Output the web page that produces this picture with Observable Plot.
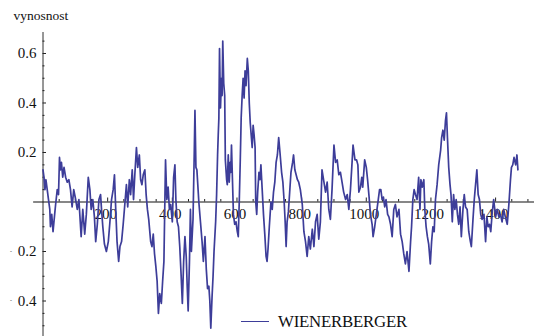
<!DOCTYPE html>
<html>
<head>
<meta charset="utf-8">
<script src="https://cdn.jsdelivr.net/npm/d3@7"></script>
<script src="https://cdn.jsdelivr.net/npm/@observablehq/plot@0.6"></script>
<style>
  body { margin: 0; background: #fff; }
  #chart { position: relative; width: 534px; height: 336px; overflow: hidden; }
  #chart svg { display: block; font-family: "Liberation Serif", serif !important; }
  #chart svg text { font-family: "Liberation Serif", serif !important; }
  .swatch { position: absolute; left: 241px; top: 320.5px; width: 28px; height: 1.6px; background: #3d3d99; }
  .legend-text { position: absolute; left: 278px; top: 313px; font-family: "Liberation Serif", serif; font-size: 16.8px; line-height: 17px; letter-spacing: -0.2px; color: #111; white-space: nowrap; }
</style>
</head>
<body>
<div id="chart"></div>
<script>
// Trading day index and rolling return of the series
const days = [
  0, 3, 6, 9, 13, 17, 21, 23, 27, 31, 36, 39, 44, 48, 51, 54, 57, 61, 65, 70,
  75, 80, 85, 90, 95, 101, 106, 111, 118, 123, 129, 134, 140, 145, 149, 154, 159, 163, 168, 173,
  178, 181, 185, 190, 196, 202, 207, 212, 217, 221, 225, 229, 234, 238, 243, 248, 253, 258, 262, 267,
  271, 276, 280, 284, 289, 293, 298, 302, 306, 310, 315, 319, 323, 327, 333, 337, 341, 345, 349, 353,
  357, 361, 366, 370, 374, 377, 379, 383, 387, 391, 395, 400, 404, 408, 411, 415, 419, 423, 427, 431,
  435, 439, 443, 446, 449, 453, 456, 459, 464, 468, 470, 473, 476, 482, 487, 492, 496, 501, 505, 509,
  513, 516, 519, 523, 526, 529, 534, 537, 540, 542, 544, 546, 549, 552, 554, 556, 559, 562, 564, 568,
  570, 573, 576, 579, 581, 583, 586, 589, 593, 597, 601, 604, 607, 610, 613, 616, 619, 622, 625, 628,
  632, 635, 638, 641, 644, 647, 650, 653, 656, 658, 661, 664, 668, 671, 674, 678, 682, 686, 690, 693,
  696, 700, 705, 709, 713, 717, 721, 725, 729, 733, 738, 742, 746, 749, 752, 755, 759, 763, 767, 772,
  775, 779, 783, 787, 791, 796, 802, 807, 812, 817, 822, 827, 833, 838, 843, 848, 853, 858, 863, 869,
  874, 879, 884, 889, 894, 900, 905, 910, 915, 920, 925, 930, 936, 941, 946, 951, 956, 959, 965, 970,
  974, 977, 982, 986, 989, 995, 1000, 1004, 1008, 1013, 1018, 1021, 1026, 1031, 1037, 1041, 1045, 1049, 1053, 1057,
  1061, 1066, 1070, 1075, 1080, 1085, 1090, 1095, 1101, 1106, 1111, 1116, 1121, 1126, 1132, 1137, 1140, 1144, 1148, 1152,
  1157, 1162, 1166, 1169, 1173, 1178, 1181, 1185, 1189, 1193, 1198, 1202, 1206, 1210, 1214, 1219, 1224, 1230, 1233, 1237,
  1241, 1245, 1248, 1251, 1255, 1259, 1262, 1266, 1270, 1274, 1278, 1282, 1286, 1290, 1294, 1299, 1303, 1307, 1312, 1317,
  1322, 1325, 1330, 1334, 1338, 1342, 1346, 1350, 1354, 1358, 1364, 1369, 1373, 1377, 1381, 1385, 1389, 1394, 1400, 1405,
  1410, 1415, 1420, 1425, 1430, 1436, 1441, 1443, 1446, 1449, 1453, 1457, 1462, 1466, 1469
];
const returns = [
  0.13, 0.10, 0.05, 0.09, 0.05, 0.01, -0.03, -0.10, -0.05, -0.12, -0.05, -0.01, 0.05, 0.03, 0.18, 0.13, 0.16, 0.10, 0.14, 0.10,
  0.08, 0.09, 0.05, -0.02, 0.05, 0.01, -0.03, 0.01, -0.14, -0.03, -0.13, -0.05, 0.10, 0.05, -0.03, 0.01, -0.06, -0.16, -0.09, 0.01,
  0.03, -0.03, -0.10, -0.17, -0.20, -0.16, -0.08, 0.01, 0.05, 0.11, -0.03, -0.16, -0.24, -0.18, -0.16, -0.09, -0.01, 0.07, -0.02, 0.09,
  0.03, 0.13, 0.01, 0.11, 0.22, 0.14, 0.19, 0.09, 0.07, 0.11, 0.13, 0.03, -0.03, -0.07, -0.16, -0.18, -0.13, -0.21, -0.26, -0.32,
  -0.45, -0.37, -0.41, -0.32, -0.24, 0.01, 0.17, 0.01, 0.06, -0.03, -0.01, -0.08, 0.10, 0.15, 0.01, -0.08, -0.10, -0.18, -0.29, -0.41,
  -0.24, -0.14, -0.22, -0.34, -0.44, -0.24, -0.03, -0.20, -0.07, 0.21, 0.37, 0.14, 0.13, 0.00, -0.08, -0.16, -0.24, -0.14, -0.27, -0.35,
  -0.34, -0.40, -0.51, -0.38, -0.30, -0.20, -0.08, 0.03, 0.19, 0.27, 0.34, 0.62, 0.38, 0.50, 0.43, 0.65, 0.48, 0.43, 0.17, 0.09,
  0.07, 0.19, 0.08, 0.16, 0.12, 0.23, 0.09, -0.05, -0.09, -0.08, -0.12, -0.14, 0.00, 0.16, 0.34, 0.43, 0.50, 0.42, 0.53, 0.47,
  0.58, 0.53, 0.40, 0.32, 0.27, 0.22, 0.31, 0.27, 0.22, 0.00, -0.05, 0.04, 0.12, 0.09, 0.15, 0.05, -0.05, -0.13, -0.22, -0.24,
  -0.19, -0.10, 0.00, -0.03, 0.04, 0.08, 0.16, 0.19, 0.26, 0.20, 0.12, 0.08, 0.00, -0.08, -0.18, -0.08, -0.04, 0.04, 0.12, 0.16,
  0.19, 0.13, 0.11, 0.09, 0.08, 0.05, -0.01, -0.12, -0.16, -0.22, -0.14, -0.19, -0.11, -0.18, -0.08, -0.05, -0.15, -0.08, 0.13, 0.08,
  0.04, 0.08, -0.03, -0.07, 0.05, 0.23, 0.16, 0.17, 0.11, 0.12, 0.08, 0.04, 0.01, 0.03, -0.03, 0.05, 0.16, 0.23, 0.17, 0.17,
  0.15, 0.04, 0.06, 0.10, 0.06, 0.17, 0.14, 0.09, 0.03, -0.05, -0.09, -0.14, -0.10, -0.05, 0.01, 0.05, 0.05, 0.01, 0.02, -0.02,
  0.01, -0.05, -0.06, -0.09, -0.14, -0.03, -0.01, -0.06, -0.03, -0.13, -0.16, -0.21, -0.25, -0.20, -0.28, -0.16, -0.10, 0.01, 0.05, 0.03,
  0.01, 0.10, -0.03, 0.09, 0.06, 0.09, -0.03, -0.10, -0.14, -0.17, -0.25, -0.16, -0.10, -0.12, 0.01, 0.07, 0.15, 0.21, 0.26, 0.29,
  0.25, 0.33, 0.36, 0.26, 0.14, 0.07, 0.03, -0.08, 0.03, -0.03, 0.01, -0.05, -0.09, -0.02, -0.14, -0.03, 0.03, -0.02, -0.03, -0.12,
  -0.16, -0.18, -0.07, 0.01, 0.07, 0.13, 0.03, 0.01, -0.05, -0.07, -0.05, -0.16, -0.06, -0.10, -0.09, -0.12, -0.05, 0.01, -0.06, -0.03,
  -0.06, -0.05, -0.08, -0.03, -0.06, -0.09, -0.01, 0.03, 0.09, 0.14, 0.15, 0.18, 0.15, 0.19, 0.13
];

const seriesName = "WIENERBERGER";
const yTitle = "vynosnost";
const xTickValues = [200, 400, 600, 800, 1000, 1200, 1400];
const yTickValues = [-0.4, -0.2, 0.2, 0.4, 0.6];

// Plot range and axis extents
const W = 534, H = 336;
const xDomain = [-131.5, 1520.3];
const yDomain = [-0.5434, 0.8141];
const xAxisStart = -29;
const yAxisTop = 0.685;

const serifFont = "Liberation Serif";
const lineColor = "#3d3d99";
const pxX = W / (xDomain[1] - xDomain[0]);
const pxY = H / (yDomain[1] - yDomain[0]);

const xMinor = d3.range(50, 1501, 50).filter(v => v % 200 !== 0);
const yMinor = d3.range(-10, 14).map(k => +(k * 0.05).toFixed(2))
  .filter(v => v !== 0 && Math.abs(Math.round(v * 5) - v * 5) > 1e-6);

const series = days.map((d, i) => ({day: d, value: returns[i]}));

const chart = Plot.plot({
  width: W,
  height: H,
  marginTop: 0, marginRight: 0, marginBottom: 0, marginLeft: 0,
  x: {domain: xDomain, axis: null},
  y: {domain: yDomain, axis: null},
  style: {fontFamily: serifFont, background: "#fff", color: "#111"},
  marks: [
    // axes crossing at the origin
    Plot.ruleX([0], {y1: yDomain[0], y2: yAxisTop, stroke: "#8c8c8c", strokeWidth: 1.8}),
    Plot.ruleY([0], {x1: xAxisStart, x2: xDomain[1], stroke: "#111", strokeWidth: 1.2}),
    // inward tick marks
    Plot.ruleX(xTickValues, {x: d => d, y1: 0, y2: 4 / pxY, stroke: "#222", strokeWidth: 1}),
    Plot.ruleX(xMinor, {x: d => d, y1: 0, y2: 2.5 / pxY, stroke: "#222", strokeWidth: 1}),
    Plot.ruleY(yTickValues, {y: d => d, x1: 0, x2: 3.5 / pxX, stroke: "#222", strokeWidth: 1}),
    Plot.ruleY(yMinor, {y: d => d, x1: 0, x2: 2 / pxX, stroke: "#222", strokeWidth: 1}),
    // tick labels
    Plot.text(xTickValues, {x: d => d, y: 0, text: d => String(d), dx: -2, dy: 12, fontFamily: serifFont, fontSize: 15, fill: "#111", letterSpacing: -1}),
    Plot.text(yTickValues, {x: 0, y: d => d, text: d => Math.abs(d).toFixed(1), textAnchor: "end", dx: -6.5, fontFamily: serifFont, fontSize: 15, fill: "#111", letterSpacing: -0.8}),
    Plot.text(yTickValues.filter(v => v < 0), {x: 0, y: d => d, text: () => "-", textAnchor: "middle", dx: -32, dy: -0.5, fontFamily: serifFont, fontSize: 6, fill: "#333"}),
    // axis title
    Plot.text([yTitle], {frameAnchor: "top-left", text: d => d, textAnchor: "start", lineAnchor: "top", dx: 13, dy: 10, fontFamily: serifFont, fontSize: 13.5, fill: "#111", letterSpacing: -0.6}),
    // the series
    Plot.line(series, {x: "day", y: "value", stroke: lineColor, strokeWidth: 1.7, strokeLinejoin: "round"})
  ]
});

const root = document.getElementById("chart");
root.appendChild(chart);

const swatch = document.createElement("div");
swatch.className = "swatch";
root.appendChild(swatch);
const label = document.createElement("div");
label.className = "legend-text";
label.textContent = seriesName;
root.appendChild(label);
</script>
</body>
</html>
